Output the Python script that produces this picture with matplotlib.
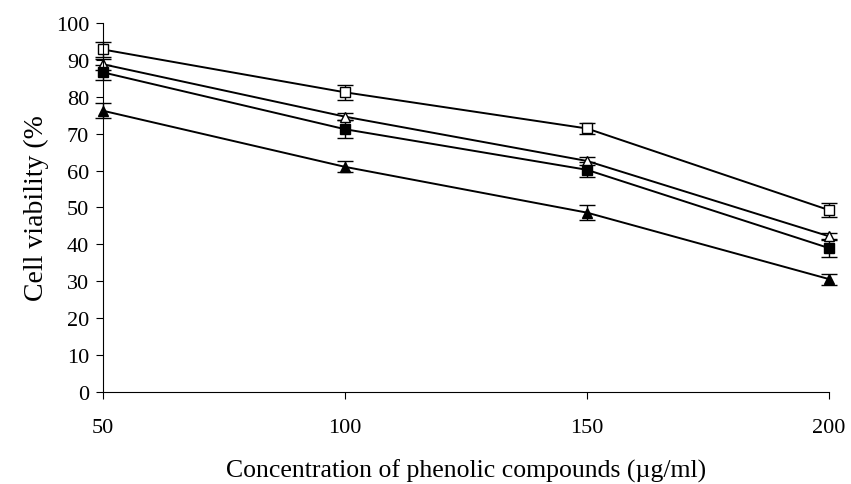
import matplotlib
matplotlib.use("Agg")
import matplotlib.pyplot as plt
import numpy as np

plt.rcParams['font.family'] = ['Liberation Serif', 'DejaVu Serif']

conc = [50, 100, 150, 200]

# four series (mean, error)
open_sq = [92.8, 81.2, 71.4, 49.3]
open_sq_err = [2.0, 2.0, 1.5, 2.0]
open_tri = [88.8, 74.6, 62.6, 42.2]
open_tri_err = [1.5, 1.0, 1.0, 1.0]
fill_sq = [86.6, 71.2, 60.2, 39.0]
fill_sq_err = [2.0, 2.5, 2.0, 2.5]
fill_tri = [76.2, 61.0, 48.6, 30.6]
fill_tri_err = [2.0, 1.5, 2.0, 1.5]

series = [
    (open_sq, open_sq_err, 's', 'white'),
    (open_tri, open_tri_err, '^', 'white'),
    (fill_sq, fill_sq_err, 's', 'black'),
    (fill_tri, fill_tri_err, '^', 'black'),
]

fig = plt.figure(figsize=(8.51, 4.85), dpi=100)
ax = fig.add_axes([0.121, 0.1897, 0.853, 0.761])

for y, err, m, fc in series:
    ax.errorbar(conc, y, yerr=err, color='black', lw=1.4, marker=m,
                markersize=6.5, markerfacecolor=fc, markeredgecolor='black',
                markeredgewidth=1.0, ecolor='black', elinewidth=1.0,
                capsize=6, capthick=1.0, clip_on=False)

ax.set_xlim(50, 200)
ax.set_ylim(0, 100)
ax.set_xticks(conc)
ax.set_yticks(np.arange(0, 101, 10))
ax.spines['top'].set_visible(False)
ax.spines['right'].set_visible(False)
ax.tick_params(axis='both', labelsize=16, direction='out', length=5, width=0.8)
ax.tick_params(axis='y', pad=5)
ax.tick_params(axis='x', pad=14)
ax.set_xlabel('Concentration of phenolic compounds (\u00b5g/ml)', fontsize=18.5, labelpad=15)
ax.set_ylabel('Cell viability (%', fontsize=20, labelpad=5)

fig.savefig('out.png', dpi=100)
